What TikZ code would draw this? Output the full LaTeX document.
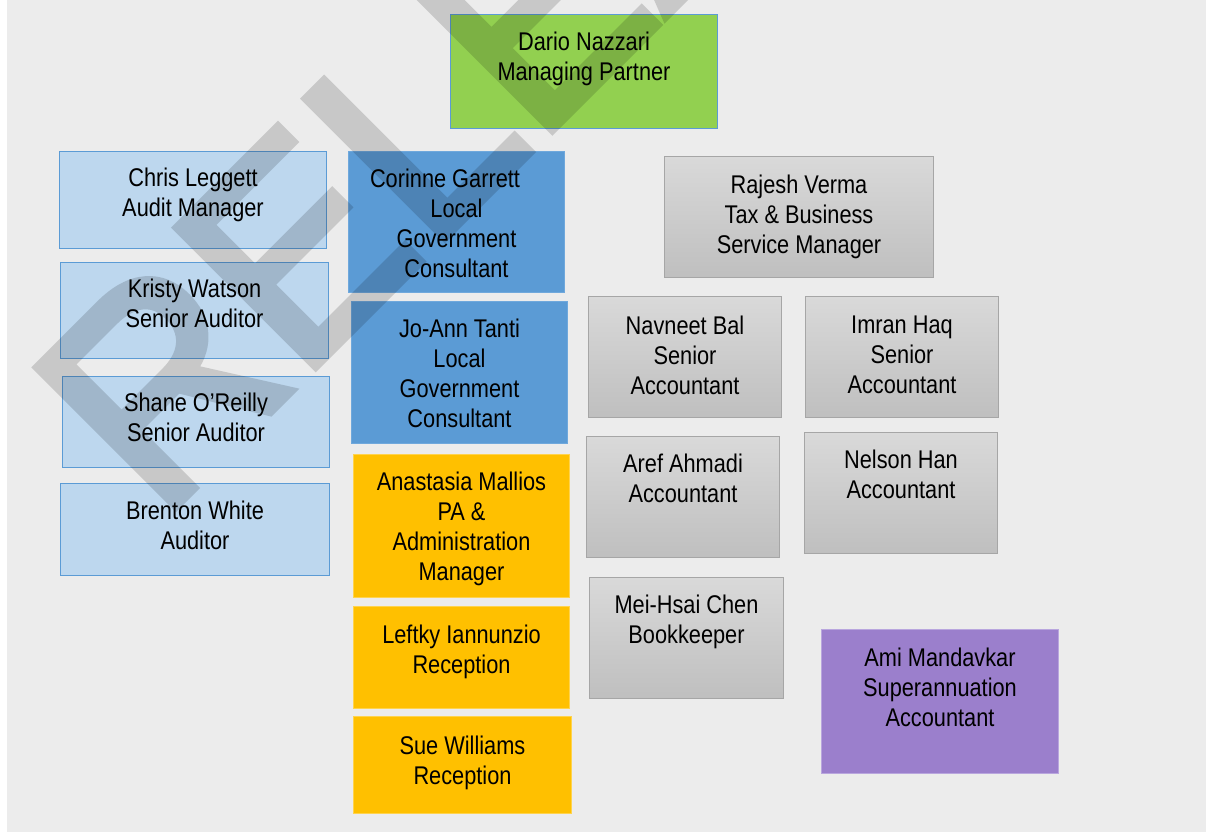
\documentclass[tikz,border=0pt]{standalone}
\usepackage{fontspec}
\setmainfont[FakeStretch=0.85]{Liberation Sans}
\newfontfamily\wmfont[FakeStretch=0.96, FakeBold=3]{Liberation Sans}
\usepackage{tikz}
\usetikzlibrary{positioning, calc}

\definecolor{bgcol}{HTML}{ECECEC}
\definecolor{auditfill}{HTML}{BDD7EE}
\definecolor{auditline}{HTML}{5B9BD5}
\definecolor{govfill}{HTML}{5B9BD5}
\definecolor{govline}{HTML}{6FA8DC}
\definecolor{partnerfill}{HTML}{92D050}
\definecolor{adminfill}{HTML}{FFC000}
\definecolor{adminline}{HTML}{FFD34D}
\definecolor{taxtop}{HTML}{D9D9D9}
\definecolor{taxbottom}{HTML}{BFBFBF}
\definecolor{taxline}{HTML}{A6A6A6}
\definecolor{superfill}{HTML}{9B7FCC}
\definecolor{superline}{HTML}{B9A6DE}

\begin{document}
\begin{tikzpicture}[
        x=1pt, y=-1pt,
        person/.style={rectangle, inner sep=0pt, anchor=north west, line width=1pt},
        partner/.style={person, fill=partnerfill, draw=auditline},
        audit/.style={person, fill=auditfill, draw=auditline},
        gov/.style={person, fill=govfill, draw=govline},
        admin/.style={person, fill=adminfill, draw=adminline},
        tax/.style={person, top color=taxtop, bottom color=taxbottom, draw=taxline},
        super/.style={person, fill=superfill, draw=superline},
        txt/.style={anchor=north, align=center, inner sep=0pt, font=\fontsize{25.6}{30}\selectfont},
        wm/.style={anchor=base west, inner sep=0pt, rotate=45, text=black, font=\wmfont\fontsize{285}{285}\selectfont}
    ]

    % Canvas
    \useasboundingbox (0,0) rectangle (1206,832);
    \fill[bgcol] (7,0) rectangle (1206,832);

    % Managing partner
    \node[partner, minimum width=267pt, minimum height=114pt] (dario) at (450,14) {};
    \node[txt] (dario-t) at ([yshift=-18pt]dario.north) {Dario Nazzari\\Managing Partner};

    % Audit
    \node[audit, minimum width=267pt, minimum height=97pt] (chris) at (59,151) {};
    \node[audit, minimum width=268pt, minimum height=96pt] (kristy) at (60,262) {};
    \node[audit, minimum width=267pt, minimum height=91pt] (shane) at (62,376) {};
    \node[audit, minimum width=269pt, minimum height=92pt] (brenton) at (60,483) {};
    \node[txt] (chris-t) at ([yshift=-17pt]chris.north) {Chris Leggett\\Audit Manager};
    \node[txt] (kristy-t) at ([yshift=-17pt]kristy.north) {Kristy Watson\\Senior Auditor};
    \node[txt] (shane-t) at ([yshift=-17pt]shane.north) {Shane O’Reilly\\Senior Auditor};
    \node[txt] (brenton-t) at ([yshift=-18pt]brenton.north) {Brenton White\\Auditor};

    % Local government
    \node[gov, minimum width=216pt, minimum height=141pt] (corinne) at (348,151) {};
    \node[gov, minimum width=216pt, minimum height=142pt] (joann) at (351,301) {};
    \node[txt] (corinne-t) at ([yshift=-18pt]corinne.north) {Corinne Garrett\kern23pt\\Local\\Government\\Consultant};
    \node[txt] (joann-t) at ([yshift=-18pt]joann.north) {Jo-Ann Tanti\\Local\\Government\\Consultant};

    % Administration
    \node[admin, minimum width=216pt, minimum height=143pt] (anastasia) at (353,454) {};
    \node[admin, minimum width=216pt, minimum height=102pt] (leftky) at (353,606) {};
    \node[admin, minimum width=218pt, minimum height=97pt] (sue) at (353,716) {};
    \node[txt] (anastasia-t) at ([yshift=-18pt]anastasia.north) {Anastasia Mallios\\PA \&\\Administration\\Manager};
    \node[txt] (leftky-t) at ([yshift=-19pt]leftky.north) {Leftky Iannunzio\\Reception};
    \node[txt] (sue-t) at ([yshift=-20pt]sue.north) {Sue Williams\\Reception};

    % Tax and business
    \node[tax, minimum width=269pt, minimum height=121pt] (rajesh) at (664,156) {};
    \node[tax, minimum width=193pt, minimum height=121pt] (navneet) at (588,296) {};
    \node[tax, minimum width=193pt, minimum height=121pt] (imran) at (805,296) {};
    \node[tax, minimum width=193pt, minimum height=121pt] (aref) at (586,436) {};
    \node[tax, minimum width=193pt, minimum height=121pt] (nelson) at (804,432) {};
    \node[tax, minimum width=194pt, minimum height=121pt] (meihsai) at (589,577) {};
    \node[txt] (rajesh-t) at ([yshift=-19pt]rajesh.north) {Rajesh Verma\\Tax \& Business\\Service Manager};
    \node[txt] (navneet-t) at ([yshift=-20pt]navneet.north) {Navneet Bal\\Senior\\Accountant};
    \node[txt] (imran-t) at ([yshift=-20pt]imran.north) {Imran Haq\\Senior\\Accountant};
    \node[txt] (aref-t) at ([yshift=-18pt]aref.north) {Aref Ahmadi\\Accountant};
    \node[txt] (nelson-t) at ([yshift=-18pt]nelson.north) {Nelson Han\\Accountant};
    \node[txt] (meihsai-t) at ([yshift=-18pt]meihsai.north) {Mei-Hsai Chen\\Bookkeeper};

    % Superannuation
    \node[super, minimum width=237pt, minimum height=144pt] (ami) at (821,629) {};
    \node[txt] (ami-t) at ([yshift=-19pt]ami.north) {Ami Mandavkar\\Superannuation\\Accountant};

    % Watermark
    \begin{scope}[transparency group, opacity=0.15]
        \clip (7,0) rectangle (1206,832);
        \node[wm] (stamp) at (160,522) {RELEASED};
    \end{scope}

\end{tikzpicture}
\end{document}
